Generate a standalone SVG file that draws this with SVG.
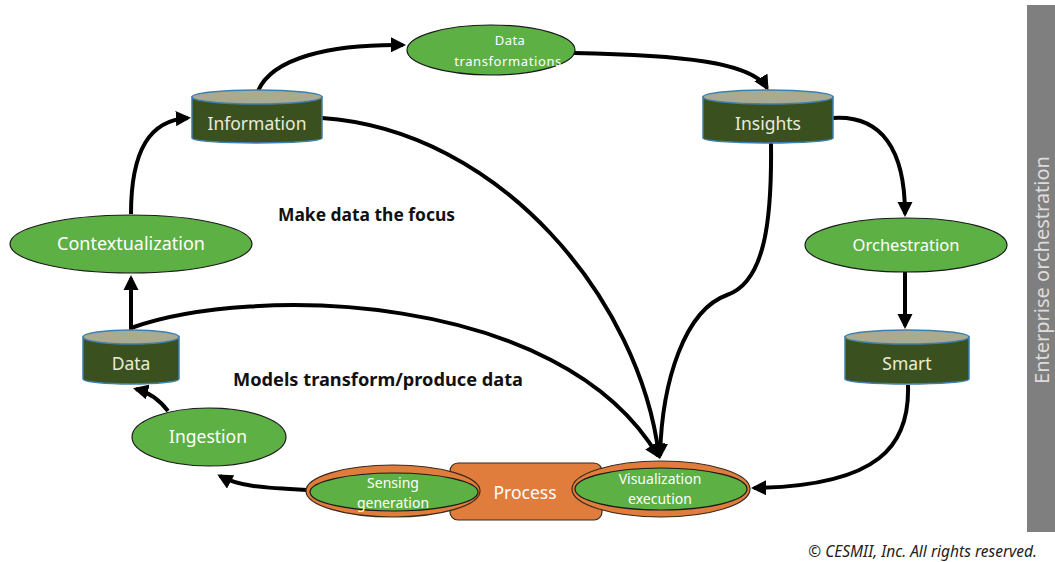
<svg xmlns="http://www.w3.org/2000/svg" width="1055" height="562" viewBox="0 0 1055 562">
  <style>
    .oval { fill: #5cb044; stroke: #1a1a1a; stroke-width: 1.2; }
    .orange { fill: #e07c3c; stroke: #3a2a1a; stroke-width: 1.2; }
    .body { fill: #3b501f; stroke: #3f7fae; stroke-width: 1.5; }
    .lid { fill: #a9aa8f; stroke: #3f7fae; stroke-width: 1.5; }
    .lbl { font-family: "Noto Sans", "Open Sans", sans-serif; fill: #ffffff; text-anchor: middle; }
    .dlbl { font-family: "Noto Sans", "Open Sans", sans-serif; fill: #e8ecd8; text-anchor: middle; font-size: 17.5px; }
    .note { font-family: "Noto Sans", "Open Sans", sans-serif; font-weight: bold; fill: #111111; font-size: 17.5px; }
    .wire { fill: none; stroke: #000000; stroke-width: 4; marker-end: url(#head); }
  </style>
  <defs>
    <marker id="head" viewBox="0 0 10 10" refX="8" refY="5" markerWidth="3.8" markerHeight="3.8" orient="auto" markerUnits="strokeWidth">
      <path d="M0,0 L10,5 L0,10 Z" fill="#000000"/>
    </marker>
  </defs>
  <rect width="1055" height="562" fill="#ffffff"/>

  <!-- side band -->
  <g id="enterprise">
    <rect x="1027" y="5" width="28" height="527" fill="#7f7f7f"/>
    <text x="1049" y="270" transform="rotate(-90 1049 270)" font-family="Noto Sans, Open Sans, sans-serif" font-size="20" fill="#dcdcdc" text-anchor="middle">Enterprise orchestration</text>
  </g>

  <!-- connectors -->
  <g id="connectors">
    <path class="wire" d="M131,214 C131,150 150,120 188,118"/>
    <path class="wire" d="M131,330 L131,278"/>
    <path class="wire" d="M168,411 C158,398 148,392 136,389"/>
    <path class="wire" d="M307,490 C262,488 238,486 220,476"/>
    <path class="wire" d="M258,91 C272,58 330,44 403,45"/>
    <path class="wire" d="M574,53 C680,55 752,62 767,88"/>
    <path class="wire" d="M833,118 C882,115 905,150 905,214"/>
    <path class="wire" d="M905,272 L905,326"/>
    <path class="wire" d="M908,385 C910,445 880,486 754,488"/>
    <path class="wire" d="M322,118 C500,130 640,300 659,456"/>
    <path class="wire" d="M771,143 C772,220 765,282 727,295 C685,310 662,380 660,456"/>
    <path class="wire" d="M131,328 C250,285 560,290 658,456"/>
  </g>

  <!-- stores -->
  <g id="information">
    <path class="body" d="M192,97 L192,138 A65,5 0 0 0 322,138 L322,97 Z"/>
    <ellipse class="lid" cx="257" cy="97" rx="65" ry="7"/>
    <text class="dlbl" x="257" y="130">Information</text>
  </g>
  <g id="insights">
    <path class="body" d="M703,97 L703,138 A65,5 0 0 0 833,138 L833,97 Z"/>
    <ellipse class="lid" cx="768" cy="97" rx="65" ry="7"/>
    <text class="dlbl" x="768" y="130">Insights</text>
  </g>
  <g id="data">
    <path class="body" d="M83,337 L83,379 A48,5 0 0 0 179,379 L179,337 Z"/>
    <ellipse class="lid" cx="131" cy="337" rx="48" ry="7"/>
    <text class="dlbl" x="131" y="370">Data</text>
  </g>
  <g id="smart">
    <path class="body" d="M845,337 L845,379 A62,5 0 0 0 969,379 L969,337 Z"/>
    <ellipse class="lid" cx="907" cy="337" rx="62" ry="7"/>
    <text class="dlbl" x="907" y="370">Smart</text>
  </g>

  <!-- steps -->
  <g id="data-transformations">
    <ellipse class="oval" cx="491" cy="50" rx="84" ry="25"/>
    <text class="lbl" x="510" y="45" font-size="13" letter-spacing="0.4">Data</text>
    <text class="lbl" x="508" y="66" font-size="13" letter-spacing="0.6">transformations</text>
  </g>
  <g id="contextualization">
    <ellipse class="oval" cx="131" cy="244" rx="121" ry="29"/>
    <text class="lbl" x="131" y="250" font-size="18">Contextualization</text>
  </g>
  <g id="ingestion">
    <ellipse class="oval" cx="209" cy="437" rx="77" ry="29"/>
    <text class="lbl" x="208" y="443" font-size="17.5">Ingestion</text>
  </g>
  <g id="orchestration">
    <ellipse class="oval" cx="906" cy="245" rx="101" ry="27"/>
    <text class="lbl" x="906" y="251" font-size="16.5">Orchestration</text>
  </g>

  <!-- process -->
  <g id="process">
    <rect class="orange" x="450" y="463" width="152" height="57" rx="8"/>
    <text class="lbl" x="525" y="499" font-size="17.5">Process</text>
  </g>
  <g id="sensing-generation">
    <ellipse class="orange" cx="393" cy="491" rx="87" ry="26"/>
    <ellipse class="oval" cx="394" cy="492" rx="84" ry="19"/>
    <text class="lbl" x="393" y="488" font-size="14">Sensing</text>
    <text class="lbl" x="393" y="508" font-size="14">generation</text>
  </g>
  <g id="visualization-execution">
    <ellipse class="orange" cx="661" cy="489" rx="89" ry="28"/>
    <ellipse class="oval" cx="661" cy="489" rx="86" ry="21"/>
    <text class="lbl" x="660" y="484" font-size="14">Visualization</text>
    <text class="lbl" x="660" y="504" font-size="14">execution</text>
  </g>

  <!-- captions -->
  <text class="note" x="278" y="221" textLength="177" lengthAdjust="spacingAndGlyphs">Make data the focus</text>
  <text class="note" x="233" y="386" font-size="18" textLength="290" lengthAdjust="spacingAndGlyphs">Models transform/produce data</text>
  <text x="1037" y="557" font-family="Noto Sans, Open Sans, sans-serif" font-style="italic" font-size="15.5" fill="#222222" text-anchor="end">© CESMII, Inc. All rights reserved.</text>
</svg>
